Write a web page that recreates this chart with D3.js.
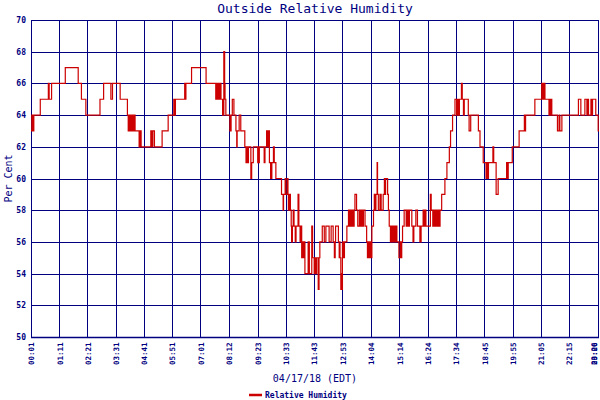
<!DOCTYPE html>
<html>
<head>
<meta charset="utf-8">
<script src="https://cdn.jsdelivr.net/npm/d3@7"></script>
<style>
  html, body { margin: 0; padding: 0; background: #fff; }
  .lbl { font-family: "DejaVu Sans Mono", monospace; fill: #000080; }
</style>
</head>
<body>
<svg id="chart"></svg>
<script>
// tick labels along the time axis (first and last are the axis ends)
const timeLabels = ["00:01", "01:11", "02:21", "03:31", "04:41", "05:51", "07:01",
  "08:12", "09:23", "10:33", "11:43", "12:53", "14:04", "15:14", "16:24",
  "17:34", "18:45", "19:55", "21:05", "22:15", "23:26"];
const endLabel = "00:00";
const endMinute = 1409;
const yTicks = [50, 52, 54, 56, 58, 60, 62, 64, 66, 68, 70];

// humidity readings: minute of day where the value changes, and the new value
const minutes = [1, 3, 6, 8, 24, 44, 46, 52, 86, 118, 126, 137, 172, 181, 199, 203, 222,
  240, 242, 245, 248, 251, 254, 256, 259, 269, 271, 274, 298, 301, 303, 307, 326, 341,
  355, 357, 359, 382, 384, 385, 399, 435, 459, 461, 464, 465, 467, 470, 472, 476, 479,
  481, 482, 484, 494, 497, 500, 504, 509, 511, 512, 517, 521, 531, 534, 536, 538, 540,
  546, 548, 552, 563, 564, 566, 567, 579, 581, 585, 588, 589, 592, 595, 598, 602, 604,
  608, 622, 626, 627, 631, 633, 637, 638, 639, 641, 644, 646, 647, 649, 651, 653, 656,
  658, 663, 665, 668, 670, 672, 674, 676, 678, 680, 688, 691, 697, 699, 703, 705, 708,
  709, 713, 715, 717, 723, 728, 732, 740, 745, 750, 753, 755, 756, 763, 765, 766, 767,
  769, 770, 771, 773, 775, 778, 784, 788, 789, 792, 794, 797, 799, 802, 804, 808, 811,
  815, 817, 820, 822, 825, 829, 833, 835, 836, 839, 841, 844, 846, 850, 852, 854, 856,
  859, 860, 862, 866, 869, 874, 877, 879, 880, 885, 887, 889, 892, 895, 898, 901, 903,
  906, 908, 913, 917, 918, 920, 922, 926, 931, 933, 936, 939, 945, 948, 950, 955, 959,
  965, 968, 973, 975, 978, 980, 991, 993, 997, 1000, 1003, 1005, 1008, 1011, 1012, 1015,
  1019, 1027, 1032, 1038, 1041, 1046, 1052, 1056, 1058, 1060, 1063, 1068, 1070, 1073,
  1075, 1085, 1087, 1091, 1110, 1114, 1122, 1129, 1131, 1132, 1135, 1146, 1148, 1154,
  1159, 1180, 1182, 1184, 1194, 1211, 1224, 1226, 1227, 1250, 1267, 1269, 1270, 1272,
  1273, 1275, 1285, 1287, 1289, 1290, 1292, 1306, 1310, 1312, 1317, 1358, 1364, 1374,
  1379, 1381, 1383, 1389, 1391, 1393, 1401, 1407, 1409];
const humidity = [63, 64, 63, 64, 65, 66, 65, 66, 67, 66, 65, 64, 65, 66, 65, 66, 65,
  64, 63, 64, 63, 64, 63, 64, 63, 62, 63, 62, 63, 62, 63, 62, 63, 64,
  65, 64, 65, 66, 65, 66, 67, 66, 65, 66, 65, 66, 65, 66, 65, 64, 68,
  66, 65, 64, 63, 64, 65, 64, 63, 62, 63, 64, 63, 62, 61, 62, 61, 62,
  60, 61, 62, 61, 62, 61, 62, 61, 62, 63, 62, 63, 61, 60, 61, 62, 61,
  60, 59, 58, 59, 60, 59, 60, 59, 58, 59, 58, 57, 56, 57, 58, 57, 56,
  57, 59, 57, 56, 57, 55, 56, 55, 56, 54, 56, 54, 57, 55, 54, 55, 54,
  55, 53, 55, 56, 57, 56, 57, 56, 57, 56, 55, 56, 57, 56, 55, 56, 55,
  53, 54, 53, 56, 55, 56, 57, 58, 57, 58, 57, 58, 57, 58, 59, 58, 57,
  58, 57, 58, 57, 58, 57, 56, 55, 56, 55, 56, 55, 57, 58, 59, 58, 59,
  61, 59, 58, 59, 58, 59, 60, 59, 60, 59, 58, 57, 56, 57, 56, 57, 56,
  57, 56, 55, 56, 55, 56, 57, 58, 57, 58, 57, 58, 57, 56, 57, 58, 57,
  56, 57, 58, 57, 58, 57, 59, 58, 57, 58, 57, 58, 57, 58, 57, 58,
  59, 60, 61, 62, 63, 64, 65, 64, 65, 64, 65, 66, 65, 64,
  65, 64, 63, 64, 63, 62, 61, 60, 61, 60, 61, 62, 61, 59,
  60, 61, 60, 61, 62, 63, 64, 63, 64, 65, 66, 65, 66, 65,
  66, 65, 64, 65, 64, 65, 64, 63, 64, 63, 64, 65, 64, 65,
  64, 65, 64, 65, 64, 65, 64, 63, 63];

const NAVY = "#000080";
const RED = "#cc0000";

const totalW = 600, totalH = 400;
const mg = { top: 20, right: 1, bottom: 63, left: 31 };
const W = totalW - mg.left - mg.right;
const H = totalH - mg.top - mg.bottom;

const toMin = (s) => { const [h, m] = s.split(":").map(Number); return h * 60 + m; };

const svg = d3.select("#chart").attr("width", totalW).attr("height", totalH);
const g = svg.append("g").attr("transform", `translate(${mg.left},${mg.top})`);

const x = d3.scaleLinear().domain([toMin(timeLabels[0]), endMinute]).range([0, W]);
const y = d3.scaleLinear().domain([50, 70]).range([H, 0]);

// grid
g.selectAll("line.hgrid").data(yTicks).join("line")
  .attr("class", "hgrid")
  .attr("x1", 0).attr("x2", W)
  .attr("y1", (d) => Math.round(y(d)) + 0.5).attr("y2", (d) => Math.round(y(d)) + 0.5)
  .attr("stroke", NAVY).attr("stroke-width", 1);

g.selectAll("line.vgrid").data(timeLabels).join("line")
  .attr("class", "vgrid")
  .attr("x1", (d) => Math.round(x(toMin(d))) + 0.5).attr("x2", (d) => Math.round(x(toMin(d))) + 0.5)
  .attr("y1", 0).attr("y2", H)
  .attr("stroke", NAVY).attr("stroke-width", 1);

// frame
g.append("rect").attr("x", 0.5).attr("y", 0.5).attr("width", W - 1).attr("height", H)
  .attr("fill", "none").attr("stroke", NAVY).attr("stroke-width", 1);
g.append("line").attr("x1", 0).attr("x2", W).attr("y1", H + 0.5).attr("y2", H + 0.5)
  .attr("stroke", NAVY).attr("stroke-width", 1.5);

// y tick labels
g.selectAll("text.ytick").data(yTicks).join("text")
  .attr("class", "ytick lbl")
  .attr("x", -5).attr("y", (d) => y(d) + 3)
  .attr("text-anchor", "end")
  .attr("font-size", 8).attr("font-weight", "bold")
  .text((d) => d);

// x tick labels, rotated; the last ones are pulled in so they stay on the page
const xLabels = timeLabels.map((t) => ({ t, m: toMin(t) })).concat([{ t: endLabel, m: endMinute }]);
g.selectAll("text.xtick").data(xLabels).join("text")
  .attr("class", "xtick lbl")
  .attr("transform", (d) => `translate(${Math.min(x(d.m) + 3.3, W - 2.5)},${H + 5.5}) rotate(-90)`)
  .attr("text-anchor", "end")
  .attr("font-size", 7.5).attr("font-weight", "bold")
  .text((d) => d.t);

// data line
const pts = minutes.map((m, i) => [m, humidity[i]]);
g.append("path")
  .datum(pts)
  .attr("fill", "none")
  .attr("stroke", RED)
  .attr("stroke-width", 1.2)
  .attr("d", d3.line().x((d) => x(d[0])).y((d) => y(d[1])).curve(d3.curveStepAfter));

// titles
svg.append("text").attr("class", "lbl")
  .attr("x", mg.left + W / 2).attr("y", 13)
  .attr("text-anchor", "middle").attr("font-size", 13)
  .text("Outside Relative Humidity");

svg.append("text").attr("class", "lbl")
  .attr("transform", `translate(12,${mg.top + H / 2}) rotate(-90)`)
  .attr("text-anchor", "middle").attr("font-size", 10)
  .text("Per Cent");

svg.append("text").attr("class", "lbl")
  .attr("x", mg.left + W / 2).attr("y", 382)
  .attr("text-anchor", "middle").attr("font-size", 10)
  .text("04/17/18 (EDT)");

// legend
const lg = svg.append("g").attr("transform", "translate(249,395)");
lg.append("line").attr("x1", 0).attr("x2", 13).attr("y1", 0).attr("y2", 0)
  .attr("stroke", RED).attr("stroke-width", 2.5);
lg.append("text").attr("class", "lbl")
  .attr("x", 16).attr("y", 3)
  .attr("font-size", 8).attr("font-weight", "bold")
  .text("Relative Humidity");
</script>
</body>
</html>
